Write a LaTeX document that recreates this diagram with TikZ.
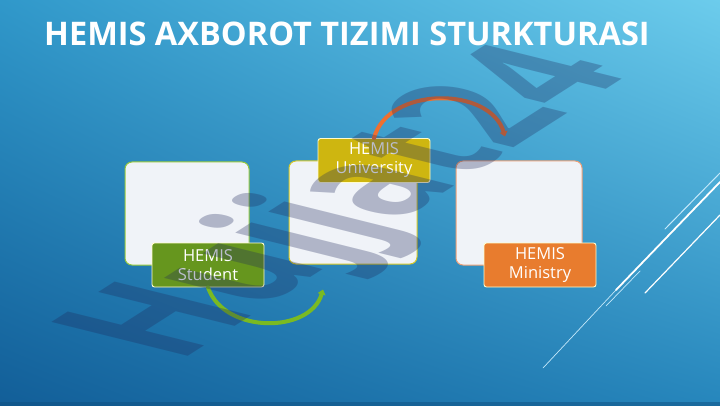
\documentclass[tikz,border=0pt]{standalone}
\usepackage{fontspec}
\setmainfont{Open Sans}
\usetikzlibrary{arrows.meta,shadings}
\definecolor{bgUL}{RGB}{48,152,202}
\definecolor{bgUR}{RGB}{108,204,236}
\definecolor{bgLL}{RGB}{18,94,152}
\definecolor{bgLR}{RGB}{38,134,188}
\definecolor{boxfill}{RGB}{240,243,248}
\definecolor{stugreen}{RGB}{102,150,30}
\definecolor{stuedge}{RGB}{150,200,60}
\definecolor{uniyellow}{RGB}{206,182,16}
\definecolor{uniedge}{RGB}{212,200,40}
\definecolor{minorange}{RGB}{232,124,46}
\definecolor{minedge}{RGB}{236,160,120}
\definecolor{arcorange}{RGB}{238,112,48}
\definecolor{arcgreen}{RGB}{122,186,34}
\definecolor{deco}{RGB}{196,232,250}
\definecolor{wmark}{RGB}{30,40,90}
\begin{document}
\begin{tikzpicture}[x=1pt,y=-1pt,
  panel/.style={draw, line width=1pt, fill=boxfill, rounded corners=7pt, inner sep=0pt},
  tag/.style={draw=white!80!yellow, line width=0.9pt, rounded corners=2.5pt, inner sep=0pt,
    minimum width=112pt, minimum height=44pt, align=center, text=white,
    font=\fontsize{16.5}{19}\selectfont},
  flow/.style={line width=4pt, line cap=round},
  decoline/.style={draw=deco, line cap=round}
]
\useasboundingbox (0,0) rectangle (720,406);
% background
\shade[upper left=bgUL, upper right=bgUR, lower left=bgLL, lower right=bgLR] (0,0) rectangle (720,406);
\fill[bgLL!85!black, opacity=0.5] (0,402) rectangle (720,406);
% decorative lines
\draw[decoline, line width=0.7pt] (543,368) -- (616,290);
\draw[draw=white, line width=1.8pt, line cap=round] (616,290) -- (720,182);
\draw[decoline, line width=1pt] (665,229) -- (720,173);
\draw[draw=white, line width=1.2pt, line cap=round] (645,293) -- (720,215);
\draw[decoline, line width=0.7pt] (606,306) -- (640,271);
% title
\node[anchor=base west, text=white, font=\bfseries\fontsize{32.5}{36}\selectfont, inner sep=0pt] (title) at (44,46) {HEMIS AXBOROT TIZIMI STURKTURASI};
% panels
\node[panel, draw=stuedge, minimum width=124pt, minimum height=103pt] (stubox) at (187,213.5) {};
\node[panel, draw=uniedge, minimum width=128pt, minimum height=103pt] (unibox) at (353,212.5) {};
\node[panel, draw=minedge, minimum width=126pt, minimum height=104pt] (minbox) at (519,213) {};
% tags
\node[tag, fill=stugreen] (stutag) at (208,265) {HEMIS\\Student};
\node[tag, fill=uniyellow] (unitag) at (374,160.5) {HEMIS\\University};
\node[tag, fill=minorange] (mintag) at (540,265) {HEMIS\\Ministry};
% connectors
\coordinate (oend) at ([xshift=-14pt,yshift=24pt]minbox.north);
\coordinate (gend) at ([xshift=-30pt,yshift=-25pt]unibox.south);
\draw[flow, arcorange, -{Triangle[length=5pt,width=8pt]}] (unitag.north) .. controls (388,86) and (490,86) .. (oend);
\draw[flow, arcgreen, -{Triangle[length=5pt,width=8pt]}] (stutag.south) .. controls (224,334) and (310,334) .. (gend);
% watermark
\begin{scope}[cm={10.8,6.9,-19.1,4.75,(176,364)}]
\node[transform shape, anchor=base west, inner sep=0pt, text=wmark, text opacity=0.3,
  font=\bfseries\fontsize{10}{12}\selectfont] (wm) at (0,0) {Hujjat24};
\end{scope}
\end{tikzpicture}
\end{document}
